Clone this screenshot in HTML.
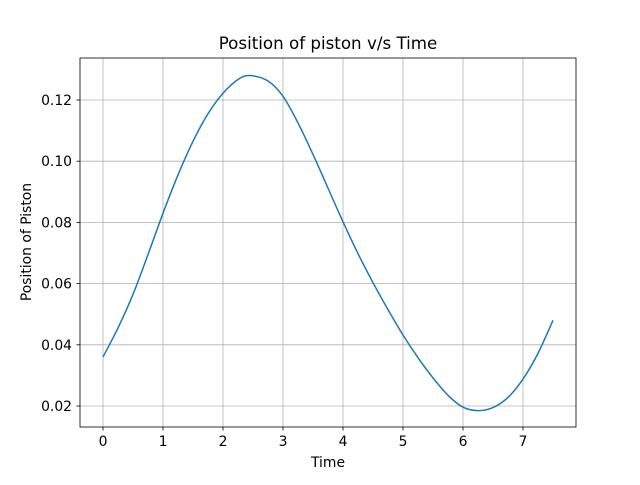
<!DOCTYPE html>
<html><head><meta charset="utf-8"><style>
body{margin:0;background:#fff;}
svg text{font-family:"DejaVu Sans","Liberation Sans",sans-serif;}
</style></head><body>
<svg width="640" height="480" viewBox="0 0 640 480" id="chart">
<rect width="640" height="480" fill="#fff"/>
<g id="grid"></g>
<path id="line" fill="none" stroke="#1f77b4" stroke-width="1.5" stroke-linejoin="round"/>
<rect x="80" y="58" width="496" height="369" fill="none" stroke="#000" stroke-width="0.8"/>
<g id="ticks"></g>
<text x="328" y="49" text-anchor="middle" font-size="16.7">Position of piston v/s Time</text>
<text x="328" y="467" text-anchor="middle" font-size="13.9">Time</text>
<text x="31" y="242" text-anchor="middle" font-size="13.9" transform="rotate(-90 31 242)">Position of Piston</text>
</svg>
<script>
const times=[0,0.25,0.5,0.75,1,1.25,1.5,1.75,2,2.25,2.45,2.75,3,3.25,3.5,3.75,4,4.25,4.5,4.75,5,5.25,5.5,5.75,6,6.25,6.5,6.75,7,7.25,7.5];
const positions=[0.036,0.0455,0.0565,0.0695,0.0830,0.0955,0.1065,0.1155,0.1222,0.1267,0.128,0.1262,0.1212,0.1125,0.1022,0.0912,0.0802,0.0698,0.0603,0.0515,0.0432,0.0358,0.0292,0.0235,0.0196,0.0185,0.0195,0.0228,0.0288,0.0372,0.048];
const xTicks=[0,1,2,3,4,5,6,7];
const yTicks=[0.02,0.04,0.06,0.08,0.10,0.12];
const xs=t=>103+60*t;
const ys=v=>406-(v-0.02)*3060;
const NS='http://www.w3.org/2000/svg';
const grid=document.getElementById('grid'),ticks=document.getElementById('ticks');
function mk(tag,attrs,parent){const e=document.createElementNS(NS,tag);for(const k in attrs)e.setAttribute(k,attrs[k]);parent.appendChild(e);return e;}
xTicks.forEach(t=>{const x=xs(t);
 const g=mk('line',{x1:x,x2:x,y1:58,y2:427,stroke:'#b0b0b0','stroke-width':0.8},grid);
 
 
 mk('line',{x1:x,x2:x,y1:427,y2:430.5,stroke:'#000','stroke-width':0.8},ticks);
 const tx=mk('text',{x:x,y:446,'text-anchor':'middle','font-size':13.9},ticks);tx.textContent=String(t);
 
 
});
yTicks.forEach(v=>{const y=ys(v);
 const g=mk('line',{x1:80,x2:576,y1:y,y2:y,stroke:'#b0b0b0','stroke-width':0.8},grid);
 
 
 mk('line',{x1:76.5,x2:80,y1:y,y2:y,stroke:'#000','stroke-width':0.8},ticks);
 const tx=mk('text',{x:72,y:y+5,'text-anchor':'end','font-size':13.9},ticks);tx.textContent=v.toFixed(2);
 
 
});
const P=times.map((t,i)=>[xs(t),ys(positions[i])]);
let d='M'+P[0][0]+','+P[0][1];
for(let i=0;i<P.length-1;i++){
 const p0=P[Math.max(0,i-1)],p1=P[i],p2=P[i+1],p3=P[Math.min(P.length-1,i+2)];
 const c1=[p1[0]+(p2[0]-p0[0])/6,p1[1]+(p2[1]-p0[1])/6];
 const c2=[p2[0]-(p3[0]-p1[0])/6,p2[1]-(p3[1]-p1[1])/6];
 d+=` C${c1[0]},${c1[1]} ${c2[0]},${c2[1]} ${p2[0]},${p2[1]}`;
}
document.getElementById('line').setAttribute('d',d);
</script>
</body></html>
